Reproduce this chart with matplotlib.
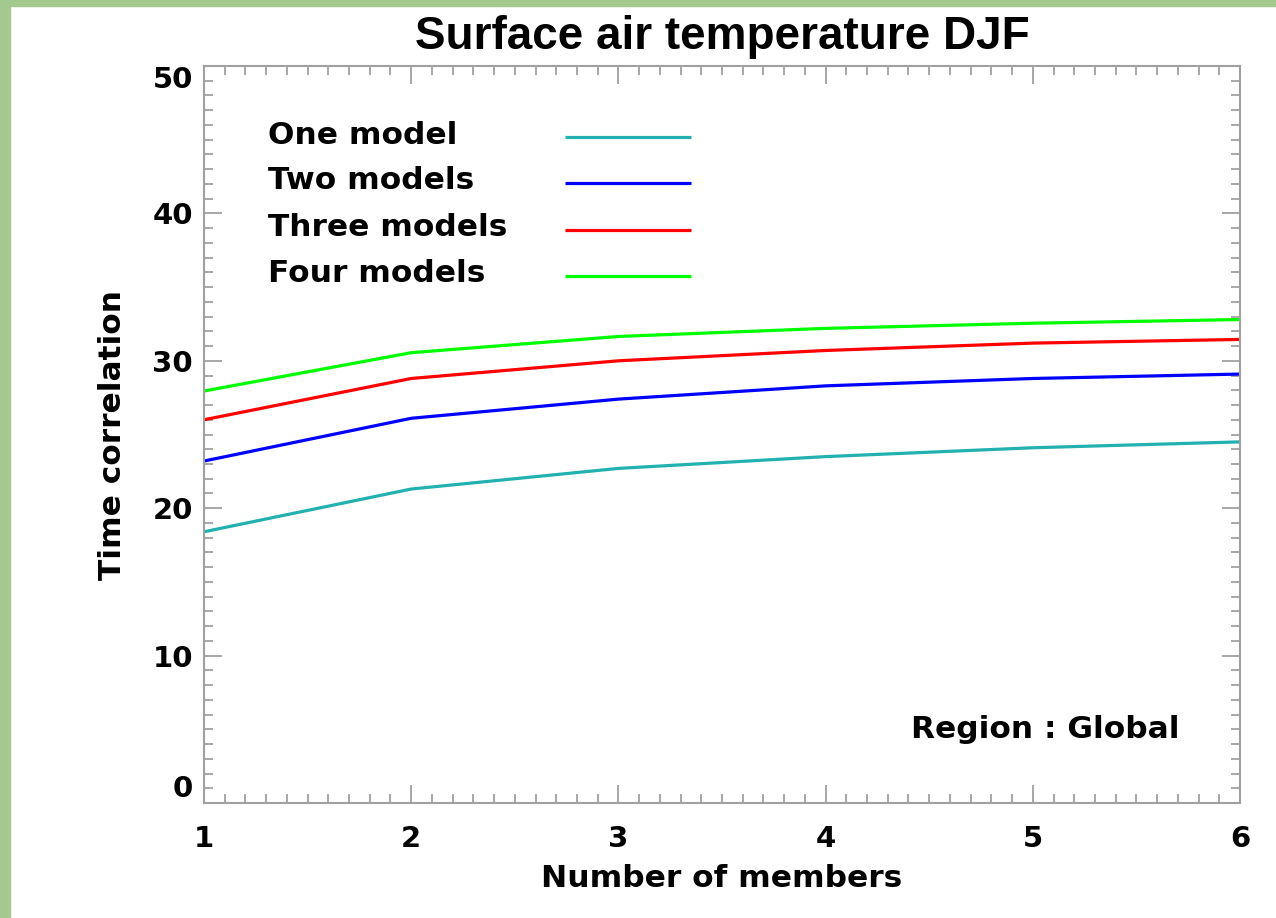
import matplotlib.pyplot as plt
import matplotlib.patches as mpatches
from matplotlib.ticker import MultipleLocator

# ── Data ─────────────────────────────────────────────────────────────────────
members = [1, 2, 3, 4, 5, 6]
one_model = [18.4, 21.3, 22.7, 23.5, 24.1, 24.5]
two_models = [23.2, 26.1, 27.4, 28.3, 28.8, 29.1]
three_models = [26.0, 28.8, 30.0, 30.7, 31.2, 31.45]
four_models = [27.95, 30.55, 31.65, 32.2, 32.55, 32.8]

series_names = ["One model", "Two models", "Three models", "Four models"]
series_vals = [one_model, two_models, three_models, four_models]
series_cols = ["#22b0b0", "#0000ff", "#ff0000", "#00ff00"]

TITLE_FONT = "Liberation Sans"
FONT = "DejaVu Sans"
FS = 22.5
TICK_FS = 21
GRAY = "#a0a0a0"

fig = plt.figure(figsize=(12.76, 9.18), dpi=100)
fig.patch.set_facecolor("white")
# light green frame on the left and top edges
fig.patches.append(mpatches.Rectangle((0, 0), 10 / 1276, 1, transform=fig.transFigure,
                                      color="#a3c98f", zorder=0))
fig.patches.append(mpatches.Rectangle((0, 1 - 6 / 918), 1, 6 / 918, transform=fig.transFigure,
                                      color="#a3c98f", zorder=0))

ax = fig.add_axes([204 / 1276, 1 - 803 / 918, 1036 / 1276, 737 / 918])

for name, vals, col in zip(series_names, series_vals, series_cols):
    ax.plot(members, vals, color=col, linewidth=2.3, solid_capstyle="butt")

ax.set_xlim(1, 6)
ax.set_ylim(0, 50)
ax.xaxis.set_major_locator(MultipleLocator(1))
ax.xaxis.set_minor_locator(MultipleLocator(0.1))
ax.yaxis.set_major_locator(MultipleLocator(10))
ax.yaxis.set_minor_locator(MultipleLocator(1))

ax.tick_params(which="both", direction="in", top=True, right=True,
               color=GRAY, width=1.3)
ax.tick_params(which="major", length=13)
ax.tick_params(which="minor", length=6.5)
ax.tick_params(axis="y", which="major", pad=8)
ax.tick_params(axis="x", which="major", pad=16)
for spine in ax.spines.values():
    spine.set_color(GRAY)
    spine.set_linewidth(1.5)

ax.set_xlabel("Number of members", fontsize=FS, fontweight="bold",
              family=FONT, labelpad=8)
ax.set_ylabel("Time correlation", fontsize=FS, fontweight="bold",
              family=FONT, labelpad=18)
ax.set_title("Surface air temperature DJF", fontsize=33, fontweight="bold",
             family=TITLE_FONT, pad=12)

# hand-drawn legend in data coordinates
leg_y = [45.3, 42.2, 39.05, 35.9]
for name, col, yy in zip(series_names, series_cols, leg_y):
    ax.text(1.31, yy, name, fontsize=FS, fontweight="bold", family=FONT,
            va="center", ha="left")
    ax.plot([2.74, 3.35], [yy - 0.15, yy - 0.15], color=col, linewidth=2.3,
            solid_capstyle="butt")

ax.text(5.71, 4.96, "Region : Global", fontsize=FS, fontweight="bold",
        family=FONT, ha="right", va="center")

fig.canvas.draw()
for lab in ax.get_xticklabels() + ax.get_yticklabels():
    lab.set_fontfamily(FONT)
    lab.set_fontweight("bold")
    lab.set_fontsize(TICK_FS)
# end labels of the y axis sit inside the axis range
for lab in ax.get_yticklabels():
    if lab.get_text() == "0":
        lab.set_verticalalignment("bottom")
    elif lab.get_text() == "50":
        lab.set_verticalalignment("top")

fig.savefig("out.png", dpi=100)
